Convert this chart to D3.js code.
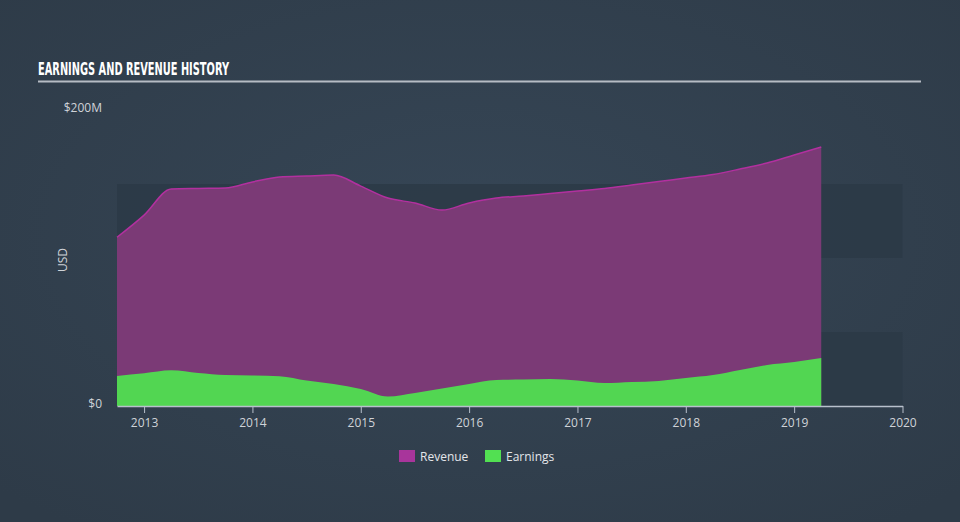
<!DOCTYPE html>
<html><head><meta charset="utf-8">
<script src="https://cdn.jsdelivr.net/npm/d3@7"></script>
<style>html,body{margin:0;padding:0;background:#323f4d;}svg{display:block;}</style>
</head><body>
<svg id="chart" width="960" height="522"></svg>
<script>
// quarterly dates (decimal years)
const dates = [2012.75,2013.0,2013.25,2013.5,2013.75,2014.0,2014.25,2014.5,2014.75,2015.0,2015.25,2015.5,2015.75,2016.0,2016.25,2016.5,2016.75,2017.0,2017.25,2017.5,2017.75,2018.0,2018.25,2018.5,2018.75,2019.0,2019.25];
// values in $M
const revenue = [114,129,146.6,147,147.3,151.4,154.7,155.4,156,148.6,140.5,137.2,132.4,137.2,140.5,141.9,143.6,145.3,147,149.3,151.7,154,156.4,160.1,164.2,169.6,175];
const earnings = [20.3,22.1,24.1,22.3,20.9,20.6,20.1,17.2,14.9,11.5,6.4,8.8,11.8,14.9,17.6,17.9,18.2,17.2,15.5,16.2,16.9,18.9,20.9,24.3,27.7,29.7,32.4];
const xTicks = [2013,2014,2015,2016,2017,2018,2019,2020];
const yLabels = [{v:0,t:"$0"},{v:200,t:"$200M"}];
const bands = [[0,50],[100,150]];
const seriesNames = ["Revenue","Earnings"];

const svg = d3.select("#chart");
const W=960,H=522;
const defs = svg.append("defs");
const rg = defs.append("radialGradient").attr("id","bg").attr("cx","50%").attr("cy","45%").attr("r","70%");
rg.append("stop").attr("offset","0%").attr("stop-color","#364656");
rg.append("stop").attr("offset","100%").attr("stop-color","#2e3b48");
svg.append("rect").attr("width",W).attr("height",H).attr("fill","url(#bg)");

const x = d3.scaleLinear().domain([2012.75,2020]).range([117,902.5]);
const y = d3.scaleLinear().domain([0,200]).range([406,110]);

// bands
svg.append("g").selectAll("rect").data(bands).join("rect")
  .attr("x",x(2012.75)).attr("width",x(2020)-x(2012.75))
  .attr("y",d=>y(d[1])).attr("height",d=>y(d[0])-y(d[1]))
  .attr("fill","#2c3946").attr("opacity",0.85);

// title
svg.append("text").attr("x",38).attr("y",75)
  .attr("font-family","'Liberation Sans Narrow','DejaVu Sans Condensed',sans-serif")
  .attr("font-weight","bold").attr("font-size",17).attr("fill","#ffffff")
  .attr("textLength",191).attr("lengthAdjust","spacingAndGlyphs")
  .text("EARNINGS AND REVENUE HISTORY");
svg.append("line").attr("x1",38).attr("x2",921).attr("y1",81.5).attr("y2",81.5)
  .attr("stroke","#b6bcc4").attr("stroke-width",2);

const data = dates.map((d,i)=>({d, r:revenue[i], e:earnings[i]}));
const curve = d3.curveMonotoneX;
const revArea = d3.area().x(d=>x(d.d)).y0(y(0)).y1(d=>y(d.r)).curve(curve);
const revLine = d3.line().x(d=>x(d.d)).y(d=>y(d.r)).curve(curve);
const earnArea = d3.area().x(d=>x(d.d)).y0(y(0)).y1(d=>y(d.e)).curve(curve);

svg.append("path").datum(data).attr("d",revArea).attr("fill","#7b3a76");
svg.append("path").datum(data).attr("d",revLine).attr("fill","none").attr("stroke","#b2309f").attr("stroke-width",1.5);
svg.append("path").datum(data).attr("d",earnArea).attr("fill","#52d652");

// x axis
const xa = svg.append("g").attr("transform",`translate(0,${y(0)})`)
  .call(d3.axisBottom(x).tickValues(xTicks).tickFormat(d3.format("d")).tickSize(7).tickSizeOuter(0));
xa.select(".domain").attr("stroke","#b8c0cc").attr("stroke-width",1.5);
xa.selectAll(".tick line").attr("stroke","#b8c0cc");
xa.selectAll(".tick text").attr("fill","#cfd3d8").attr("font-size",12)
  .attr("font-family","'Open Sans',sans-serif").attr("dy","0.9em");

// y labels
svg.append("g").selectAll("text").data(yLabels).join("text")
  .attr("x",102).attr("y",d=>y(d.v)+2).attr("text-anchor","end")
  .attr("fill","#cfd3d8").attr("font-size",12).attr("font-family","'Open Sans',sans-serif")
  .text(d=>d.t);
svg.append("text").attr("transform","translate(67,260) rotate(-90)").attr("text-anchor","middle")
  .attr("fill","#cfd3d8").attr("font-size",12).attr("font-family","'Open Sans',sans-serif").text("USD");

// legend
const legColors = ["#a8359b","#52e052"];
const legX = [399,485];
const lg = svg.append("g").selectAll("g").data(seriesNames).join("g")
  .attr("transform",(d,i)=>`translate(${legX[i]},450)`);
lg.append("rect").attr("width",16).attr("height",12).attr("fill",(d,i)=>legColors[i]);
lg.append("text").attr("x",21).attr("y",11).attr("fill","#e4e6ea").attr("font-size",12)
  .attr("font-family","'Open Sans',sans-serif").text(d=>d);
</script>
</body></html>
